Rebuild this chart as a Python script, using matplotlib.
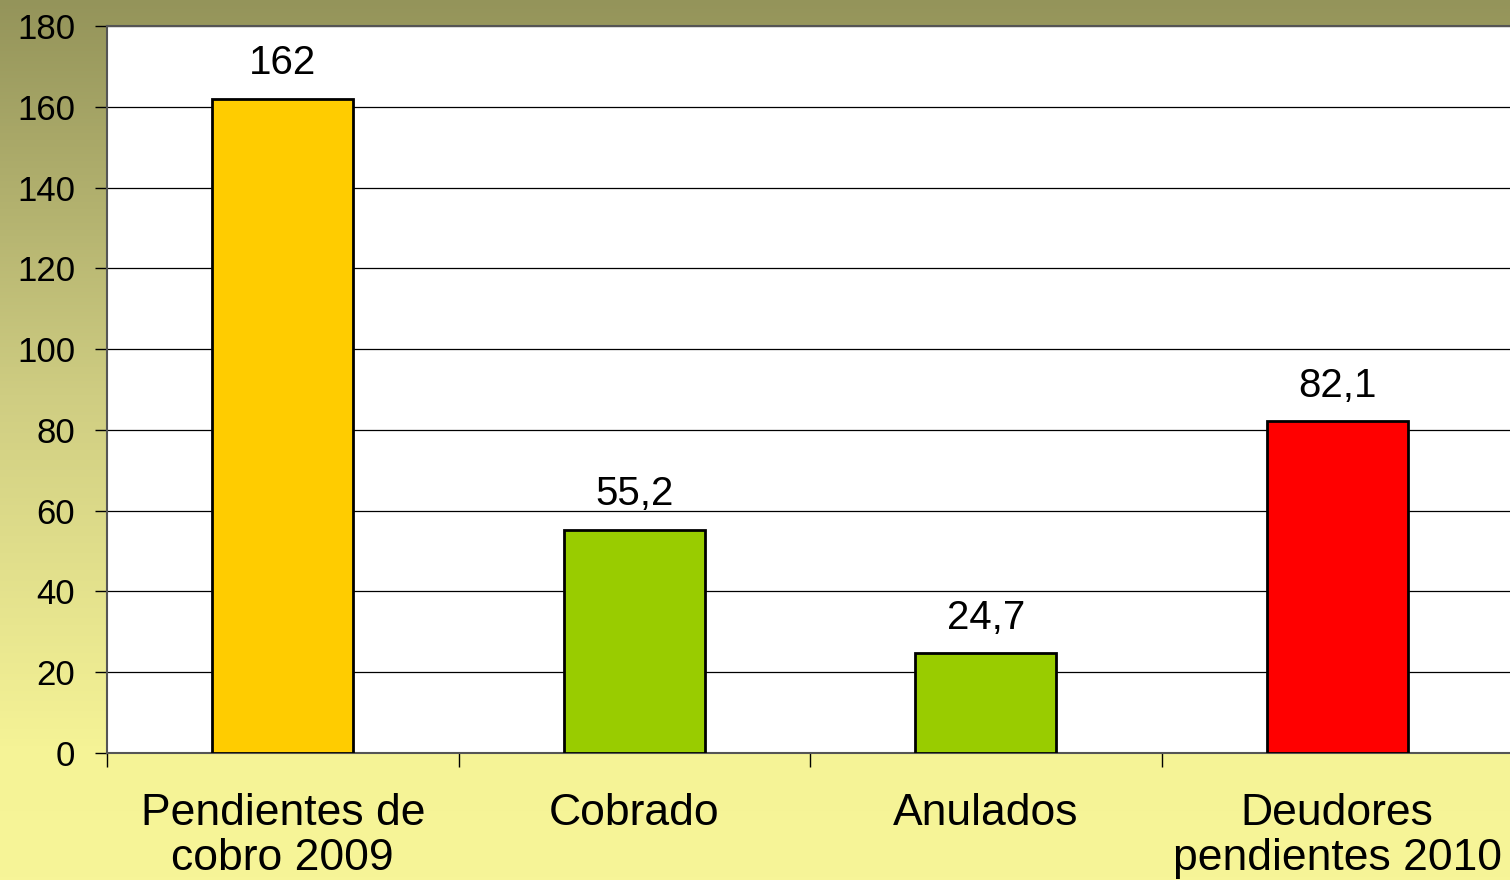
import numpy as np
import matplotlib
matplotlib.use("Agg")
import matplotlib.pyplot as plt
from matplotlib.colors import LinearSegmentedColormap

# Daten
categories = ["Pendientes de\ncobro 2009", "Cobrado", "Anulados", "Deudores\npendientes 2010"]
values = [162, 55.2, 24.7, 82.1]
value_labels = ["162", "55,2", "24,7", "82,1"]
bar_colors = ["#FFCC00", "#99CC00", "#99CC00", "#FF0000"]
yticks = [0, 20, 40, 60, 80, 100, 120, 140, 160, 180]

plt.rcParams["font.family"] = ["Liberation Sans", "DejaVu Sans"]

fig = plt.figure(figsize=(15.1, 8.8), dpi=100)

# Hintergrund-Verlauf (oliv oben -> hellgelb unten)
bg = fig.add_axes([0, 0, 1, 1], zorder=-10)
cmap = LinearSegmentedColormap.from_list(
    "bg", [(0.0, "#94945A"), (0.45, "#CFCD82"), (0.85, "#F5F396"), (1.0, "#F7F598")])
grad = np.linspace(0, 1, 256).reshape(-1, 1)
bg.imshow(grad, aspect="auto", cmap=cmap, extent=[0, 1, 0, 1], origin="upper")
bg.axis("off")

ax = fig.add_axes([107 / 1510, 127 / 880, 1 - 107 / 1510 + 0.002, (753 - 26) / 880])
ax.set_facecolor("white")

x = np.arange(len(categories))
ax.bar(x, values, width=0.40, color=bar_colors, edgecolor="black", linewidth=2, zorder=3)

for xi, v, lab in zip(x, values, value_labels):
    ax.annotate(lab, (xi, v), xytext=(0, 12), textcoords="offset points",
                ha="center", va="bottom", fontsize=29)

ax.set_xlim(-0.5, 3.5)
ax.set_ylim(0, 180)
ax.set_yticks(yticks)
ax.set_yticklabels([str(t) for t in yticks], fontsize=25)
ax.yaxis.grid(True, color="black", linewidth=0.9, zorder=0)

ax.set_xticks(x)
ax.set_xticklabels(categories, fontsize=32, linespacing=1.12)
ax.set_xticks(np.arange(-0.5, 4.0, 1.0), minor=True)
ax.tick_params(axis="x", which="major", length=0, pad=29)
ax.tick_params(axis="x", which="minor", length=10, width=1, color="black")
ax.tick_params(axis="y", length=9, width=1, color="black", pad=14)

for s in ["left", "bottom", "top"]:
    ax.spines[s].set_color("#555555")
    ax.spines[s].set_linewidth(1.5)
ax.spines["right"].set_visible(False)

fig.savefig("out.png", dpi=100)
